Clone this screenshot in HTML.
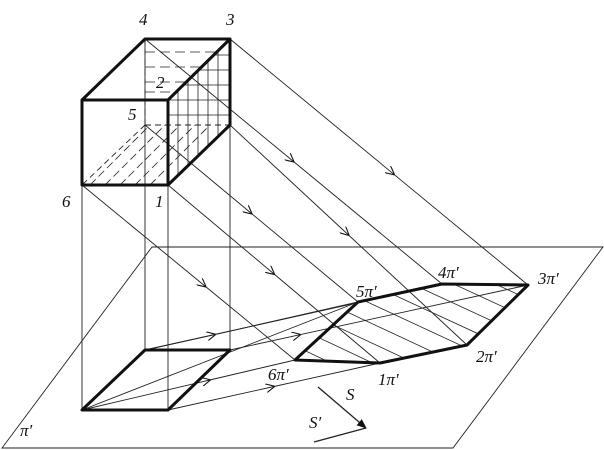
<!DOCTYPE html>
<html><head><meta charset="utf-8"><style>
html,body{margin:0;padding:0;background:#fff;overflow:hidden;width:604px;height:450px}
svg{display:block}
text{font-family:"Liberation Serif",serif;font-style:italic;font-size:17px;fill:#111}
</style></head><body>
<svg width="604" height="450" viewBox="0 0 604 450" xmlns="http://www.w3.org/2000/svg">
<defs>
<marker id="a" viewBox="0 0 10 10" refX="9" refY="5" markerWidth="9" markerHeight="9" orient="auto" markerUnits="userSpaceOnUse">
<path d="M0,0 L10,5 L0,10" fill="none" stroke="#111" stroke-width="1.2"/></marker>
<marker id="b" viewBox="0 0 10 10" refX="9" refY="5" markerWidth="10" markerHeight="10" orient="auto" markerUnits="userSpaceOnUse">
<path d="M0,1 L10,5 L0,9 Z" fill="#111"/></marker>
<clipPath id="sh"><polygon points="295,360 380,363 467,345 528,285 442,284 358,302"/></clipPath>
<clipPath id="rf"><polygon points="168,100 230,39 230,125 168,185"/></clipPath>
<clipPath id="tf"><polygon points="145,39 230,39 168,100 145,100"/></clipPath>
<clipPath id="bf"><polygon points="82,185 168,185 230,125 145,125"/></clipPath>
</defs>
<g stroke="#222" stroke-width="0.9" fill="none">
<polygon points="152,247 603,247 453,448 2,448"/>
<line x1="82" y1="185" x2="82" y2="410"/>
<line x1="168" y1="185" x2="168" y2="410"/>
<line x1="145" y1="39" x2="145" y2="350"/>
<line x1="230" y1="39" x2="230" y2="350"/>
<!-- S rays -->
<polyline points="82,185 205.5,286.5 295,360" marker-mid="url(#a)"/>
<polyline points="168,185 274,274 380,363" marker-mid="url(#a)"/>
<polyline points="145,125 251.5,213.5 358,302" marker-mid="url(#a)"/>
<polyline points="230,125 348.5,235 467,345" marker-mid="url(#a)"/>
<polyline points="145,39 293.5,161.5 442,284" marker-mid="url(#a)"/>
<polyline points="230,39 393.9,174.3 528,285" marker-mid="url(#a)"/>
<!-- S' rays -->
<polyline points="82,410 209.8,380 295,360" marker-mid="url(#a)"/>
<polyline points="168,410 274,386.5 380,363" marker-mid="url(#a)"/>
<polyline points="145,350 215,334.5 358,302" marker-mid="url(#a)"/>
<line x1="145" y1="350" x2="442" y2="284"/>
<polyline points="230,350 300,334.7 528,285" marker-mid="url(#a)"/>
<line x1="82" y1="410" x2="358" y2="302"/>
<!-- hatching shadow -->
<g clip-path="url(#sh)" stroke-width="0.8">
<path d="M280,300 L600,450 M300,290 L600,430 M320,280 L600,410 M340,270 L600,390 M360,260 L620,380 M380,250 L640,370 M400,240 L660,360 M420,230 L680,350 M440,220 L700,340 M460,210 L720,330 M260,310 L600,470 M240,320 L600,490"/>
</g>
<g clip-path="url(#rf)" stroke-width="0.8">
<path d="M178,0V200M188,0V200M198,0V200M208,0V200M218,0V200M0,55H300M0,70H300M0,85H300M0,100H300M0,115H300"/>
</g>
<g clip-path="url(#tf)" stroke-width="0.8" stroke-dasharray="10,5">
<path d="M145,52H230M145,67H230M145,82H230M145,92H230"/>
</g>
<g clip-path="url(#bf)" stroke-width="0.8" stroke-dasharray="8,4">
<path d="M90,185L150,125M105,185L165,125M120,185L180,125M135,185L195,125M150,185L210,125"/>
</g>
<g stroke-dasharray="6,4">
<line x1="145" y1="39" x2="145" y2="125"/>
<line x1="145" y1="125" x2="230" y2="125"/>
<line x1="145" y1="125" x2="82" y2="185"/>
</g>
<line x1="318" y1="387" x2="366" y2="428" stroke-width="1.3" marker-end="url(#b)"/>
<line x1="314" y1="442" x2="366" y2="428" stroke-width="1.3"/>
</g>
<g stroke="#111" stroke-width="3" fill="none" stroke-linejoin="round">
<polygon points="82,100 168,100 168,185 82,185"/>
<polyline points="82,100 145,39 230,39 168,100"/>
<polyline points="230,39 230,125 168,185"/>
<polygon points="82,410 168,410 230,350 145,350"/>
<polygon points="295,360 380,363 467,345 528,285 442,284 358,302"/>
</g>
<text x="139" y="25">4</text><text x="226" y="25">3</text>
<text x="156" y="88">2</text><text x="128" y="120">5</text>
<text x="62" y="207">6</text><text x="155" y="207">1</text>
<text x="356" y="297">5π′</text><text x="438" y="278">4π′</text>
<text x="538" y="284">3π′</text><text x="476" y="362">2π′</text>
<text x="378" y="385">1π′</text><text x="268" y="380">6π′</text>
<text x="20" y="436">π′</text>
<text x="346" y="400">S</text><text x="309" y="428">S′</text>
</svg>
</body></html>
